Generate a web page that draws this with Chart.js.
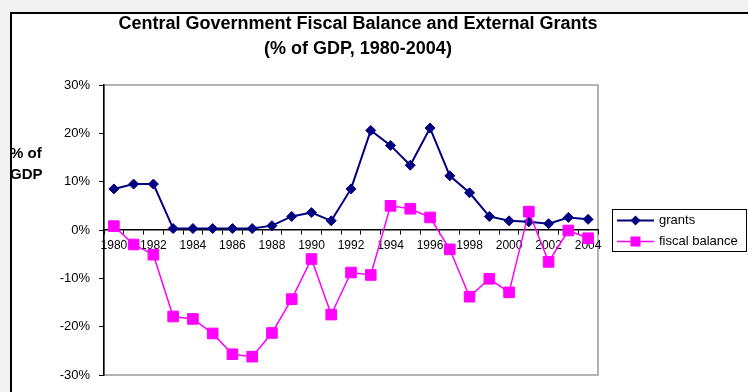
<!DOCTYPE html>
<html>
<head>
<meta charset="utf-8">
<script src="https://cdn.jsdelivr.net/npm/chart.js@4.4.1/dist/chart.umd.min.js"></script>
<style>
html, body { margin: 0; padding: 0; overflow: hidden; background: #f2f2f2; width: 748px; height: 392px; }
#frame { position: absolute; left: 10px; top: 12px; width: 760px; height: 400px; background: #fff; border-left: 2px solid #000; border-top: 2px solid #000; }
#wrap { position: absolute; left: 0; top: 0; width: 748px; height: 392px; }
</style>
</head>
<body>
<div id="frame"></div>
<div id="wrap"><canvas id="chart" width="748" height="392"></canvas></div>
<script>
var years = ['1980', '1981', '1982', '1983', '1984', '1985', '1986', '1987', '1988', '1989',
             '1990', '1991', '1992', '1993', '1994', '1995', '1996', '1997', '1998', '1999',
             '2000', '2001', '2002', '2003', '2004'];
var grants = [8.5, 9.5, 9.5, 0.3, 0.3, 0.3, 0.3, 0.3, 0.9, 2.8,
              3.6, 1.9, 8.5, 20.6, 17.5, 13.4, 21.1, 11.2, 7.7, 2.8,
              1.9, 1.7, 1.3, 2.6, 2.2];
var fiscalBalance = [0.8, -3.0, -5.1, -17.9, -18.4, -21.4, -25.7, -26.2, -21.3, -14.3,
                     -6.0, -17.5, -8.8, -9.3, 5.0, 4.4, 2.6, -4.0, -13.8, -10.1,
                     -12.9, 3.8, -6.6, -0.1, -1.7];
var yTickValues = [-30, -20, -10, 0, 10, 20, 30];
var titleLines = ['Central Government Fiscal Balance and External Grants', '(% of GDP, 1980-2004)'];
var axisLabelLines = ['% of', 'GDP'];

Chart.defaults.font.family = '"Liberation Sans", Arial, sans-serif';

// plot border, title, side label and an Excel style legend
var decor = {
    id: 'decor',
    beforeDraw: function(chart) {
        var ctx = chart.ctx, a = chart.chartArea;
        ctx.save();
        ctx.strokeStyle = '#9a9a9a';
        ctx.lineWidth = 1.5;
        ctx.strokeRect(a.left, a.top, a.right - a.left, a.bottom - a.top);
        ctx.restore();
    },
    afterDraw: function(chart) {
        var ctx = chart.ctx, a = chart.chartArea;
        ctx.save();
        ctx.fillStyle = '#000';
        ctx.textBaseline = 'middle';

        ctx.textAlign = 'center';
        ctx.font = 'bold 18px "Liberation Sans", Arial, sans-serif';
        ctx.fillText(titleLines[0], 358, 24);
        ctx.fillText(titleLines[1], 358, 49);

        ctx.textAlign = 'left';
        ctx.font = 'bold 15px "Liberation Sans", Arial, sans-serif';
        ctx.fillText(axisLabelLines[0], 10, 154);
        ctx.fillText(axisLabelLines[1], 10, 175);

        // legend
        var lx = a.right + 14, ly = 209;
        ctx.strokeStyle = '#000';
        ctx.lineWidth = 1;
        ctx.strokeRect(lx + 0.5, ly + 0.5, 134, 42);
        ctx.font = '13px "Liberation Sans", Arial, sans-serif';
        chart.data.datasets.forEach(function(ds, i) {
            var y = ly + 11.5 + i * 21;
            var mx = lx + 23.5;
            ctx.strokeStyle = ds.borderColor;
            ctx.lineWidth = ds.borderWidth;
            ctx.beginPath();
            ctx.moveTo(lx + 5, y);
            ctx.lineTo(lx + 42, y);
            ctx.stroke();
            ctx.fillStyle = ds.backgroundColor;
            ctx.beginPath();
            if (ds.pointStyle === 'rectRot') {
                ctx.moveTo(mx, y - 5);
                ctx.lineTo(mx + 5, y);
                ctx.lineTo(mx, y + 5);
                ctx.lineTo(mx - 5, y);
                ctx.closePath();
            } else {
                ctx.rect(mx - 5, y - 5, 10, 10);
            }
            ctx.fill();
            ctx.fillStyle = '#000';
            ctx.fillText(ds.label, lx + 47, y);
        });
        ctx.restore();
    }
};

var ctx = document.getElementById('chart').getContext('2d');
var myChart = new Chart(ctx, {
    type: 'line',
    data: {
        labels: years,
        datasets: [{
            label: 'grants',
            data: grants,
            borderColor: '#000080',
            backgroundColor: '#000080',
            borderWidth: 2,
            pointStyle: 'rectRot',
            pointRadius: 5,
            pointBorderWidth: 1,
            tension: 0,
            order: 1
        }, {
            label: 'fiscal balance',
            data: fiscalBalance,
            borderColor: '#ff00ff',
            backgroundColor: '#ff00ff',
            borderWidth: 1.5,
            pointStyle: 'rect',
            pointRadius: 7.5,
            pointBorderWidth: 1,
            tension: 0,
            order: 0
        }]
    },
    options: {
        responsive: false,
        animation: false,
        layout: {
            padding: { left: 0, top: 85, right: 150, bottom: 17 }
        },
        plugins: {
            legend: { display: false },
            title: { display: false },
            tooltip: { enabled: false }
        },
        scales: {
            x: {
                type: 'category',
                position: { y: 0 },
                offset: true,
                grid: { offset: true, drawOnChartArea: false, drawTicks: true, tickLength: 4, color: '#000' },
                border: { display: true, color: '#000', width: 1.5 },
                ticks: {
                    autoSkip: false,
                    maxRotation: 0,
                    padding: 4,
                    color: '#000',
                    font: { size: 12 },
                    callback: function(v, i) { return i % 2 === 0 ? years[i] : ''; }
                }
            },
            y: {
                min: -30,
                max: 30,
                afterBuildTicks: function(scale) {
                    scale.ticks = yTickValues.map(function(v) { return { value: v }; });
                },
                afterFit: function(scale) { scale.width = 104; },
                grid: { drawOnChartArea: false, tickLength: 5, color: '#000' },
                border: { color: '#000', width: 1.5 },
                ticks: {
                    padding: 9,
                    color: '#000',
                    font: { size: 13 },
                    callback: function(v) { return v + '%'; }
                }
            }
        }
    },
    plugins: [decor]
});
</script>
</body>
</html>
